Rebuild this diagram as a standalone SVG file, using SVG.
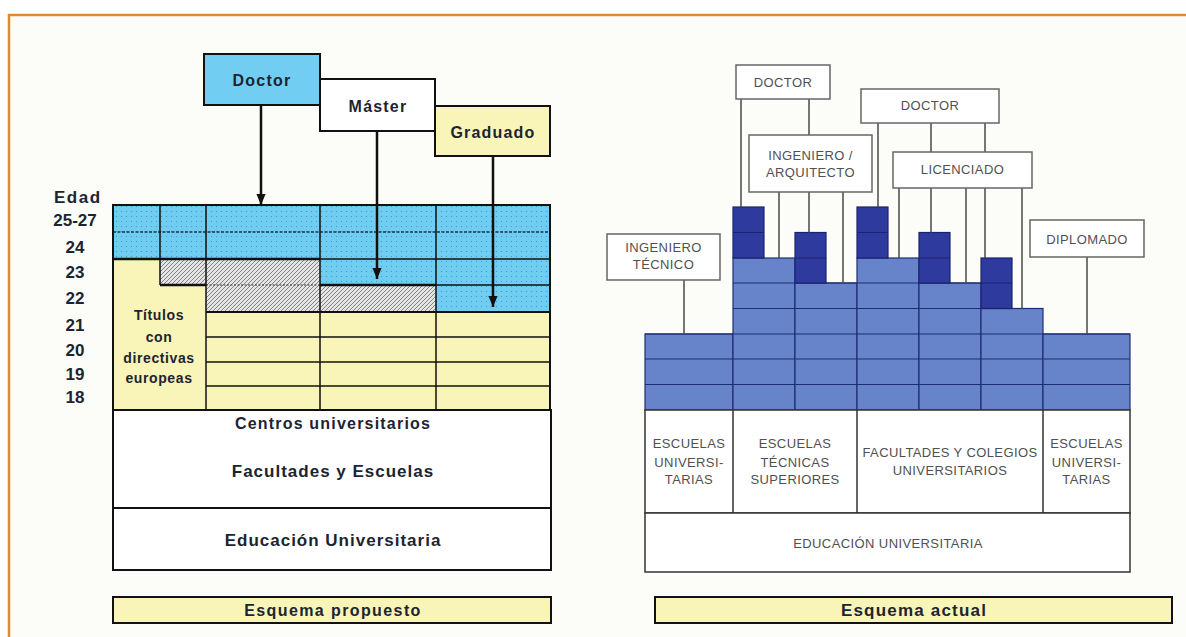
<svg xmlns="http://www.w3.org/2000/svg" width="1186" height="637" viewBox="0 0 1186 637">
<defs>
<pattern id="dots" width="5" height="5" patternUnits="userSpaceOnUse">
<rect width="5" height="5" fill="#70cdf2"/>
<circle cx="1.5" cy="1.5" r="0.6" fill="#4690b5"/>
</pattern>
<pattern id="hatch" width="4" height="4" patternUnits="userSpaceOnUse">
<rect width="4" height="4" fill="#e4e4e4"/>
<path d="M-1,1 L1,-1 M0,4 L4,0 M3,5 L5,3" stroke="#777" stroke-width="0.9"/>
</pattern>
<marker id="arr" viewBox="0 0 12 10" refX="12" refY="5" markerWidth="4.6" markerHeight="4" orient="auto" markerUnits="strokeWidth">
<path d="M0,0 L12,5 L0,10 z" fill="#111"/>
</marker>
<style>
.lt{font-family:"Liberation Sans",Arial,sans-serif;font-weight:bold;fill:#1d2431;text-anchor:middle}
.rt{font-family:"Liberation Sans",Arial,sans-serif;font-size:13px;fill:#505050;text-anchor:middle;letter-spacing:0.4px}
.bx{stroke:#111;stroke-width:2}
.rbox{fill:#fff;stroke:#666;stroke-width:1.5}
.conn{stroke:#4a4a4a;stroke-width:1.5;fill:none}
.arrow{stroke:#111;stroke-width:2.5;fill:none;marker-end:url(#arr)}
.med{fill:#6784ca;stroke:#1f2d73;stroke-width:1.2}
.dark{fill:#2e3a9e;stroke:#1a2370;stroke-width:1.2}
.gl{stroke:#111;fill:none}
</style>
</defs>

<rect x="0" y="0" width="1186" height="637" fill="#ffffff"/>
<rect x="9" y="15" width="1177" height="622" fill="#fcfcf8"/>
<g id="frame">
<line x1="8" y1="15" x2="1186" y2="15" stroke="#e0892f" stroke-width="2.5"/>
<line x1="9" y1="14" x2="9" y2="637" stroke="#e0892f" stroke-width="2.5"/>
</g>

<!-- LEFT: esquema propuesto -->
<g id="grid-left">
<polygon points="113,205 550,205 550,312 436,312 436,285 320,285 320,259 113,259" fill="url(#dots)"/>
<polygon points="160,259 320,259 320,285 436,285 436,312 206,312 206,285 160,285" fill="url(#hatch)"/>
<polygon points="113,259 160,259 160,285 206,285 206,312 550,312 550,410 113,410" fill="#f9f5b8"/>
<line x1="113" y1="232" x2="550" y2="232" stroke="#1b3550" stroke-width="1.6" stroke-dasharray="3 1.5"/>
<line x1="113" y1="259" x2="320" y2="259" class="gl" stroke-width="2.6"/>
<line x1="320" y1="259" x2="550" y2="259" class="gl" stroke-width="1.4"/>
<line x1="160" y1="285" x2="206" y2="285" class="gl" stroke-width="2.6"/>
<line x1="206" y1="285" x2="320" y2="285" stroke="#333" stroke-width="1.2" stroke-dasharray="2 1.5"/>
<line x1="320" y1="285" x2="436" y2="285" class="gl" stroke-width="2.6"/>
<line x1="436" y1="285" x2="550" y2="285" class="gl" stroke-width="1.4"/>
<line x1="206" y1="312" x2="550" y2="312" class="gl" stroke-width="2"/>
<path d="M206,337 H550 M206,362 H550 M206,386 H550" class="gl" stroke-width="1.5"/>
<path d="M160,205 V285 M206,205 V410 M320,205 V410 M436,205 V410" class="gl" stroke-width="1.5"/>
<rect x="113" y="205" width="437" height="205" fill="none" class="bx"/>
</g>

<g id="age-labels">
<text x="54" y="203" class="lt" style="text-anchor:start;font-size:17px;letter-spacing:1.5px">Edad</text>
<g class="lt" style="font-size:17px">
<text x="75" y="226">25-27</text>
<text x="75" y="253">24</text>
<text x="75" y="278">23</text>
<text x="75" y="304">22</text>
<text x="75" y="331">21</text>
<text x="75" y="356">20</text>
<text x="75" y="380">19</text>
<text x="75" y="403">18</text>
</g>
</g>

<g id="titulos" class="lt" style="font-size:14px;letter-spacing:0.6px">
<text x="159" y="320">Títulos</text>
<text x="159" y="342">con</text>
<text x="159" y="363">directivas</text>
<text x="159" y="383">europeas</text>
</g>

<g id="node-doctor">
<rect x="204" y="54" width="116" height="51" fill="#72cdf2" class="bx"/>
<text x="262" y="86" class="lt" style="font-size:16px;letter-spacing:1.2px">Doctor</text>
</g>
<g id="node-master">
<rect x="320" y="79" width="115" height="52" fill="#ffffff" class="bx"/>
<text x="378" y="112" class="lt" style="font-size:16px;letter-spacing:1.2px">Máster</text>
</g>
<g id="node-graduado">
<rect x="435" y="106" width="115" height="50" fill="#f9f5b8" class="bx"/>
<text x="493" y="138" class="lt" style="font-size:16px;letter-spacing:1.2px">Graduado</text>
</g>

<g id="node-centros">
<rect x="113" y="410" width="438" height="98" fill="#ffffff" class="bx"/>
<text x="333" y="429" class="lt" style="font-size:16px;letter-spacing:1.2px">Centros universitarios</text>
<text x="333" y="477" class="lt" style="font-size:17px;letter-spacing:1px">Facultades y Escuelas</text>
</g>
<g id="node-educacion-left">
<rect x="113" y="508" width="438" height="62" fill="#ffffff" class="bx"/>
<text x="333" y="546" class="lt" style="font-size:17px;letter-spacing:1px">Educación Universitaria</text>
</g>
<g id="node-esquema-propuesto">
<rect x="113" y="597" width="438" height="26" fill="#f9f5b8" class="bx"/>
<text x="333" y="616" class="lt" style="font-size:16px;letter-spacing:1.4px">Esquema propuesto</text>
</g>

<!-- RIGHT: esquema actual -->
<g id="blocks-right">
<rect x="645" y="334" width="88" height="76" class="med"/>
<rect x="733" y="258" width="62" height="152" class="med"/>
<rect x="795" y="283" width="62" height="127" class="med"/>
<rect x="857" y="258" width="62" height="152" class="med"/>
<rect x="919" y="283" width="62" height="127" class="med"/>
<rect x="981" y="308.5" width="62" height="101.5" class="med"/>
<rect x="1043" y="334" width="87" height="76" class="med"/>
<path d="M733,283 H981 M733,308.5 H1043 M645,334 H1130 M645,359 H1130 M645,384.5 H1130" stroke="#1f2d73" stroke-width="1.2" fill="none"/>
<rect x="733" y="207" width="31" height="51" class="dark"/>
<rect x="795" y="232.5" width="31" height="50.5" class="dark"/>
<rect x="857" y="207" width="31" height="51" class="dark"/>
<rect x="919" y="232.5" width="31" height="50.5" class="dark"/>
<rect x="981" y="258" width="31" height="50.5" class="dark"/>
<path d="M733,232.5 H764 M795,258 H826 M857,232.5 H888 M919,258 H950 M981,283 H1012" stroke="#1a2370" stroke-width="1.2" fill="none"/>
</g>

<g id="node-escuelas-row">
<rect x="645" y="410" width="485" height="103" fill="#ffffff" stroke="#333" stroke-width="1.5"/>
<path d="M733,410 V513 M857,410 V513 M1043,410 V513" stroke="#333" stroke-width="1.5"/>
<g class="rt">
<text x="689" y="447.5">ESCUELAS</text>
<text x="689" y="466.5">UNIVERSI-</text>
<text x="689" y="483.5">TARIAS</text>
<text x="795" y="447.5">ESCUELAS</text>
<text x="795" y="466.5">TÉCNICAS</text>
<text x="795" y="483.5">SUPERIORES</text>
<text x="950" y="456.5">FACULTADES Y COLEGIOS</text>
<text x="950" y="475">UNIVERSITARIOS</text>
<text x="1086.5" y="447.5">ESCUELAS</text>
<text x="1086.5" y="466.5">UNIVERSI-</text>
<text x="1086.5" y="483.5">TARIAS</text>
</g>
</g>
<g id="node-educacion-right">
<rect x="645" y="513" width="485" height="59" fill="#ffffff" stroke="#333" stroke-width="1.5"/>
<text x="888" y="547.5" class="rt">EDUCACIÓN UNIVERSITARIA</text>
</g>
<g id="node-esquema-actual">
<rect x="655" y="597" width="517" height="26" fill="#f9f5b8" class="bx"/>
<text x="914" y="616" class="lt" style="font-size:17px;letter-spacing:1.2px">Esquema actual</text>
</g>

<g id="connectors">
<line x1="261" y1="105" x2="261" y2="205" class="arrow"/>
<line x1="377" y1="131" x2="377" y2="279" class="arrow"/>
<line x1="493" y1="156" x2="493" y2="307" class="arrow"/>
<path class="conn" d="M684,280 V334 M741,99 V207 M809,99 V135 M779,192 V258 M809,192 V232.5 M843,192 V283 M878,123 V207 M931,123 V152 M985,123 V152 M899,188 V258 M931,188 V232.5 M966,188 V283 M985,188 V258 M1022,188 V308.5 M1087,257 V334"/>
</g>

<g id="node-doctor-r1">
<rect x="736" y="65" width="94" height="34" class="rbox"/>
<text x="783" y="86.5" class="rt">DOCTOR</text>
</g>
<g id="node-ingeniero-arquitecto">
<rect x="749" y="135" width="123" height="57" class="rbox"/>
<text x="810.5" y="159.5" class="rt">INGENIERO /</text>
<text x="810.5" y="176.5" class="rt">ARQUITECTO</text>
</g>
<g id="node-doctor-r2">
<rect x="861" y="89" width="138" height="34" class="rbox"/>
<text x="930" y="110" class="rt">DOCTOR</text>
</g>
<g id="node-licenciado">
<rect x="893" y="152" width="139" height="36" class="rbox"/>
<text x="962.5" y="173.5" class="rt">LICENCIADO</text>
</g>
<g id="node-ingeniero-tecnico">
<rect x="607" y="234" width="113" height="46" class="rbox"/>
<text x="663.5" y="252" class="rt">INGENIERO</text>
<text x="663.5" y="268.5" class="rt">TÉCNICO</text>
</g>
<g id="node-diplomado">
<rect x="1030" y="220" width="114" height="37" class="rbox"/>
<text x="1087" y="243.5" class="rt">DIPLOMADO</text>
</g>
</svg>
